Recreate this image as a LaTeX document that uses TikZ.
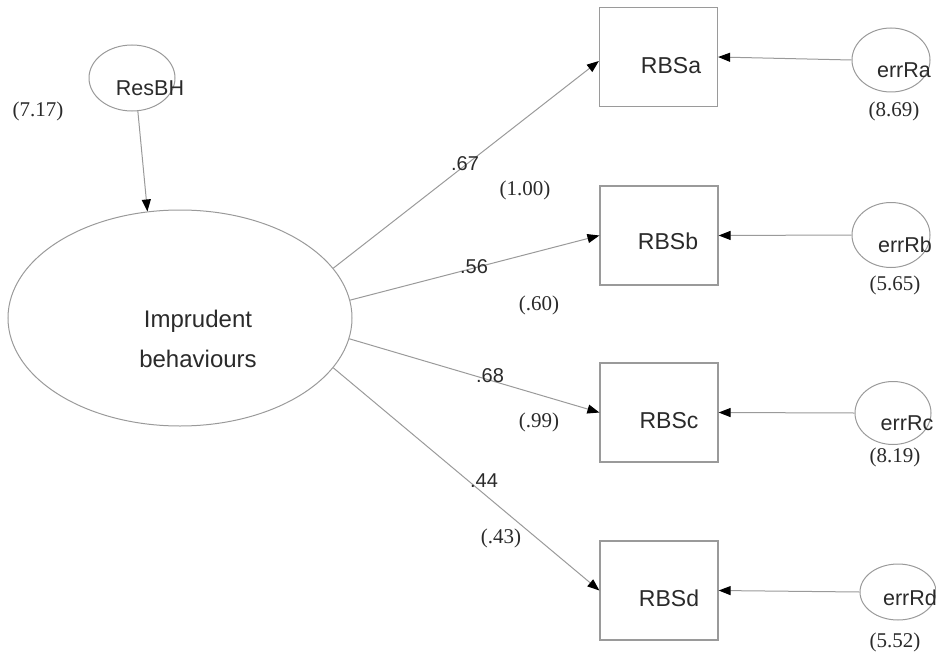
\documentclass[tikz,border=0pt]{standalone}
\usepackage{fontspec}
\setmainfont{Liberation Serif}
\setsansfont{Liberation Sans}
\usetikzlibrary{shapes.geometric,arrows.meta}

\definecolor{edge}{HTML}{9A9A9A}
\definecolor{ink}{HTML}{2A2A2A}

\tikzset{
  latent/.style={ellipse, draw=edge, line width=1pt, inner sep=0pt},
  observed/.style={rectangle, draw=edge, line width=1.2pt, inner sep=0pt,
    minimum width=118pt, minimum height=99pt},
  boxname/.style={anchor=base, inner sep=0pt, text=ink,
    font=\sffamily\fontsize{23}{27}\selectfont},
  bigname/.style={anchor=base, inner sep=0pt, text=ink,
    font=\sffamily\fontsize{24}{28}\selectfont},
  ename/.style={anchor=base, inner sep=0pt, text=ink,
    font=\sffamily\fontsize{21.5}{25}\selectfont},
  coef/.style={anchor=base, inner sep=0pt, text=ink,
    font=\sffamily\fontsize{20}{24}\selectfont},
  varval/.style={anchor=base, inner sep=0pt, text=ink,
    font=\rmfamily\fontsize{21}{25}\selectfont},
  link/.style={draw=edge, line width=1pt,
    -{Triangle[length=12pt, width=9pt, color=black]}},
}

\begin{document}
\begin{tikzpicture}[x=1pt, y=-1pt]
  \useasboundingbox (0,0) rectangle (936,666);

  % latent variables
  \node[latent, minimum width=344pt, minimum height=216pt] (imp) at (180,318) {};
  \node[latent, minimum width=86pt, minimum height=66pt] (resbh) at (132,78) {};

  % indicators
  \node[observed] (rbsa) at (658.5,57) {};
  \node[observed] (rbsb) at (659,235.5) {};
  \node[observed] (rbsc) at (659,412.5) {};
  \node[observed] (rbsd) at (659,590.5) {};

  % error terms
  \node[latent, minimum width=78pt, minimum height=64pt] (erra) at (891,60) {};
  \node[latent, minimum width=78pt, minimum height=65pt] (errb) at (891,235) {};
  \node[latent, minimum width=76pt, minimum height=63pt] (errc) at (893,413) {};
  \node[latent, minimum width=76pt, minimum height=56pt] (errd) at (898,592) {};

  % names
  \node[bigname] (timp1) at (198,327) {Imprudent};
  \node[bigname] (timp2) at (198,367) {behaviours};
  \node[ename] (tres) at (150,96) {ResBH};
  \node[boxname] (ta) at (671,74) {RBSa};
  \node[boxname] (tb) at (668,249) {RBSb};
  \node[boxname] (tc) at (669,428) {RBSc};
  \node[boxname] (td) at (669,606) {RBSd};
  \node[ename] (tea) at (904,78) {errRa};
  \node[ename] (teb) at (905,252) {errRb};
  \node[ename] (tec) at (907,430) {errRc};
  \node[ename] (ted) at (910,605) {errRd};

  % variances
  \node[varval] (vres) at (38,117) {(7.17)};
  \node[varval] (vea) at (894,117) {(8.69)};
  \node[varval] (veb) at (895,290) {(5.65)};
  \node[varval] (vec) at (895,462) {(8.19)};
  \node[varval] (ved) at (895,647) {(5.52)};

  % paths
  \draw[link] (resbh.-80) -- (imp.107);
  \draw[link] (imp.18) -- ([yshift=-4pt]rbsa.west);
  \draw[link] (imp.6) -- (rbsb.west);
  \draw[link] (imp.-7) -- (rbsc.west);
  \draw[link] (imp.-18.5) -- (rbsd.west);
  \draw[link] (erra.west) -- (rbsa.east);
  \draw[link] (errb.west) -- (rbsb.east);
  \draw[link] (errc.west) -- (rbsc.east);
  \draw[link] (errd.west) -- (rbsd.east);

  % loadings and their values
  \node[coef] (la) at (465,170) {.67};
  \node[varval] (ra) at (525,195) {(1.00)};
  \node[coef] (lb) at (474,273) {.56};
  \node[varval] (rb) at (539,310) {(.60)};
  \node[coef] (lc) at (490,382) {.68};
  \node[varval] (rc) at (539,427) {(.99)};
  \node[coef] (ld) at (484,487) {.44};
  \node[varval] (rd) at (501,543) {(.43)};
\end{tikzpicture}
\end{document}
